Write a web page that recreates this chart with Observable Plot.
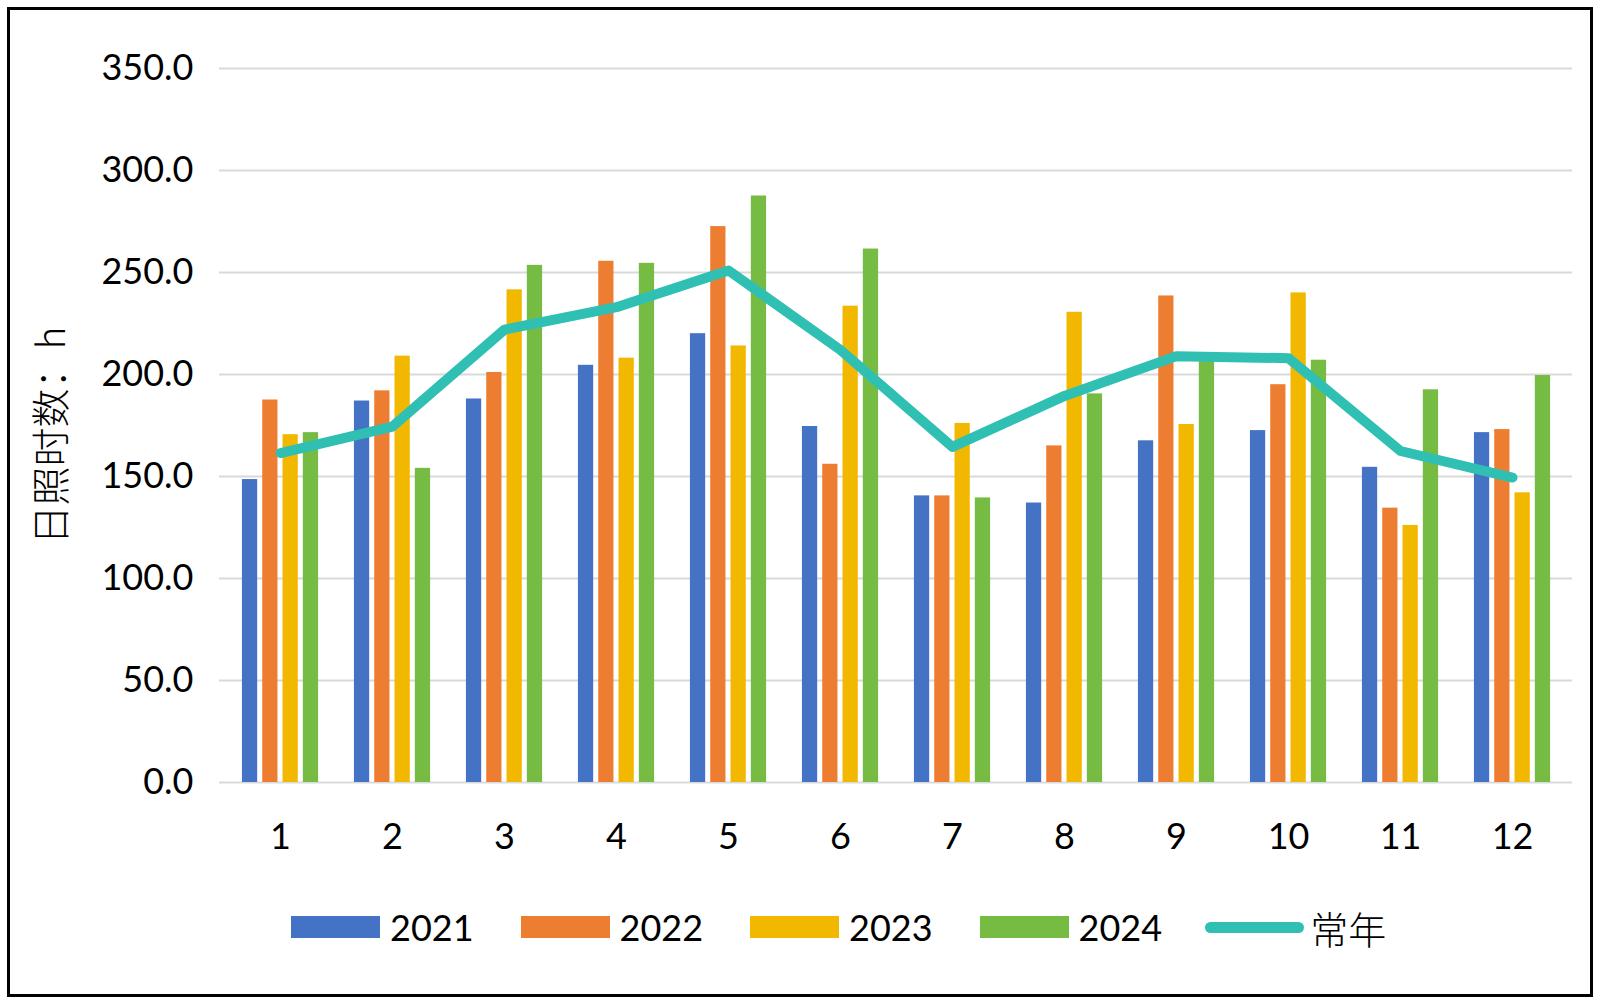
<!DOCTYPE html>
<html>
<head>
<meta charset="utf-8">
<script src="https://cdn.jsdelivr.net/npm/d3@7"></script>
<script src="https://cdn.jsdelivr.net/npm/@observablehq/plot@0.6"></script>
<style>
  html, body { margin: 0; padding: 0; background: #fff; }
  #wrap { position: relative; width: 1600px; height: 1004px; overflow: hidden; background: #fff; }
  #frame { position: absolute; left: 7px; top: 7px; width: 1586px; height: 990px; border: 3px solid #000; box-sizing: border-box; pointer-events: none; }
  #chart { position: absolute; left: 0; top: 0; }
  #legend { position: absolute; left: 291px; top: 904px; height: 46px; display: flex; align-items: center;
            font-family: Lato, "Open Sans", sans-serif; font-size: 36px; color: #000; }
  .item { display: flex; align-items: center; margin-right: 47px; }
  .sw { width: 89px; height: 22px; margin-right: 10px; }
  .ln { width: 99px; height: 11px; border-radius: 6px; margin-right: 6px; }
  .cjk { font-family: "Noto Sans CJK SC", sans-serif; font-weight: 300; font-size: 38px; }
</style>
</head>
<body>
<div id="wrap">
  <div id="chart"></div>
  <div id="legend"></div>
  <div id="frame"></div>
</div>
<script>
// ---- data ----
const months = [1, 2, 3, 4, 5, 6, 7, 8, 9, 10, 11, 12];
const years = ["2021", "2022", "2023", "2024"];
const y2021 = [148.5, 187.0, 188.0, 204.5, 220.0, 174.5, 140.5, 137.0, 167.5, 172.5, 154.5, 171.5];
const y2022 = [187.5, 192.0, 201.0, 255.5, 272.5, 156.0, 140.5, 165.0, 238.5, 195.0, 134.5, 173.0];
const y2023 = [170.5, 209.0, 241.5, 208.0, 214.0, 233.5, 176.0, 230.5, 175.5, 240.0, 126.0, 142.0];
const y2024 = [171.5, 154.0, 253.5, 254.5, 287.5, 261.5, 139.5, 190.5, 207.0, 207.0, 192.5, 199.5];
const normal = [161.5, 174.5, 222.0, 233.0, 251.0, 212.0, 164.5, 189.5, 209.0, 208.0, 162.5, 149.5];
const normalLabel = "常年";
const yTicks = [0, 50, 100, 150, 200, 250, 300, 350];
const yLabel = "日照时数：h";

const colors = ["#4472C4", "#ED7D31", "#F2B800", "#76BC43"];
const lineColor = "#30C0B3";

const series = [y2021, y2022, y2023, y2024];
const barRows = years.map((yr, k) => months.map((m, i) => ({month: m, year: yr, value: series[k][i]})));
const lineRows = months.map((m, i) => ({month: m, value: normal[i]}));

// ---- layout ----
const W = 1600, H = 880;
const ML = 219, MR = 28, MT = 68, MB = 98;
const bw = (W - ML - MR) / months.length;
const barW = 16, barStep = 20.3;
const groupW = 3 * barStep + barW;
const offset = k => bw / 2 - groupW / 2 + k * barStep;

const numFont = 'Lato, "Open Sans", sans-serif';

const marks = [
  Plot.ruleY(yTicks, {stroke: "#d9d9d9", strokeWidth: 2}),
  ...barRows.map((rows, k) => Plot.barY(rows, {
    x: "month", y: "value", fill: colors[k],
    insetLeft: offset(k), insetRight: bw - offset(k) - barW
  })),
  Plot.line(lineRows, {x: "month", y: "value", stroke: lineColor, strokeWidth: 10,
    strokeLinecap: "round", strokeLinejoin: "round"}),
  Plot.axisY(yTicks, {tickSize: 0, tickPadding: 26, tickFormat: d3.format(".1f"),
    fontSize: 36, fontFamily: numFont, label: null}),
  Plot.axisX(months, {tickSize: 0, tickPadding: 41, fontSize: 36, fontFamily: numFont, label: null}),
  Plot.text([yLabel], {frameAnchor: "left", textAnchor: "middle", lineAnchor: "middle",
    rotate: -90, dx: -167, dy: 10,
    fontSize: 39, fontFamily: '"Noto Sans CJK SC", sans-serif', fontWeight: 300, fill: "#000"})
];

const chart = Plot.plot({
  width: W, height: H,
  marginLeft: ML, marginRight: MR, marginTop: MT, marginBottom: MB,
  style: {background: "transparent", color: "#000", overflow: "visible"},
  x: {type: "band", domain: months, padding: 0},
  y: {domain: [0, 350]},
  marks
});
document.getElementById("chart").appendChild(chart);

// ---- legend ----
const legend = document.getElementById("legend");
years.forEach((yr, k) => {
  const it = document.createElement("div");
  it.className = "item";
  const sw = document.createElement("div");
  sw.className = "sw"; sw.style.background = colors[k];
  const tx = document.createElement("span");
  tx.textContent = yr;
  it.append(sw, tx);
  legend.appendChild(it);
});
{
  const it = document.createElement("div");
  it.className = "item";
  it.style.marginLeft = "-4px";
  const ln = document.createElement("div");
  ln.className = "ln"; ln.style.background = lineColor;
  const tx = document.createElement("span");
  tx.className = "cjk";
  tx.textContent = normalLabel;
  it.append(ln, tx);
  legend.appendChild(it);
}
</script>
</body>
</html>
